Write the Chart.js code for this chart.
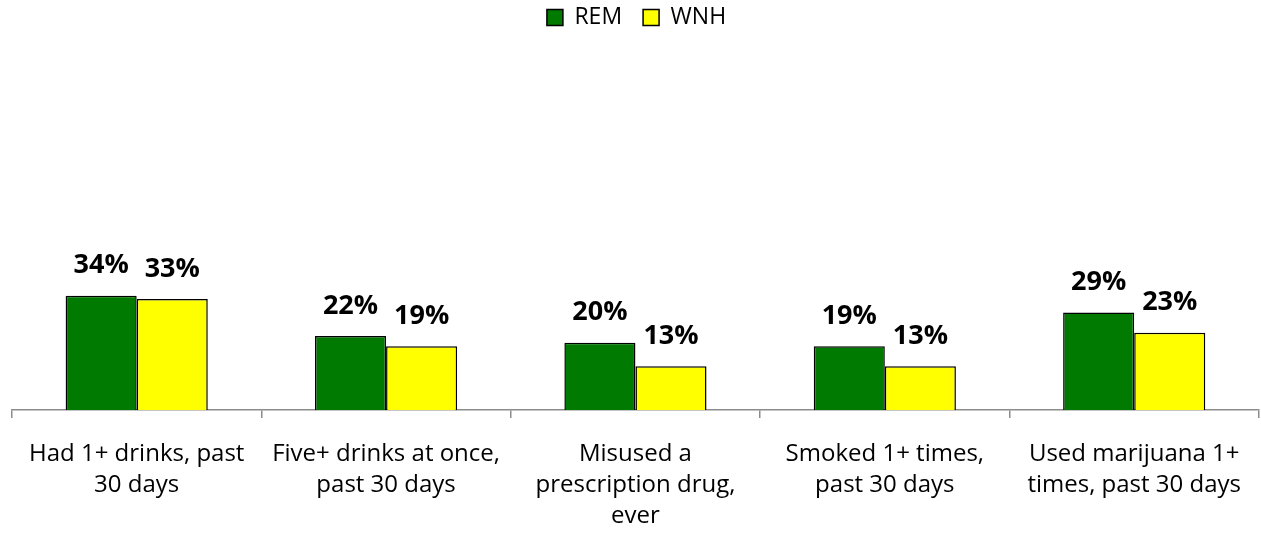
<!DOCTYPE html>
<html><head><meta charset="utf-8">
<script src="https://cdn.jsdelivr.net/npm/chart.js@4"></script>
<style>html,body{margin:0;padding:0;background:#fff;}#wrap{width:1261px;height:533px;}</style>
</head><body><div id="wrap"><canvas id="c" width="1261" height="533"></canvas></div>
<script>
const categories = [
  ["Had 1+ drinks, past", "30 days"],
  ["Five+ drinks at once,", "past 30 days"],
  ["Misused a", "prescription drug,", "ever"],
  ["Smoked 1+ times,", "past 30 days"],
  ["Used marijuana 1+", "times, past 30 days"]
];
const remValues = [34, 22, 20, 19, 29];
const wnhValues = [33, 19, 13, 13, 23];
const seriesNames = ["REM", "WNH"];

const FONT = "'Open Sans', sans-serif";
const TOP_PAD = -15;
const PLOT_TOP = 74;
const AXIS_Y = 410;
const CANVAS_H = 533;

const valueLabels = {
  id: 'valueLabels',
  afterDatasetsDraw(chart) {
    const ctx = chart.ctx;
    ctx.save();
    ctx.font = "bold 27px " + FONT;
    ctx.fillStyle = "#000";
    ctx.textAlign = "center";
    ctx.textBaseline = "middle";
    chart.data.datasets.forEach((ds, i) => {
      chart.getDatasetMeta(i).data.forEach((bar, j) => {
        ctx.fillText(ds.data[j] + "%", bar.x, bar.y - 30);
      });
    });
    ctx.restore();
  }
};

const legendSpace = {
  id: 'legendSpace',
  beforeInit(chart) {
    const lg = chart.legend;
    const fit = lg.fit;
    lg.fit = function () {
      fit.call(this);
      this.height = PLOT_TOP - TOP_PAD;
    };
  }
};

new Chart(document.getElementById('c'), {
  type: 'bar',
  data: {
    labels: categories,
    datasets: [
      { label: seriesNames[0], data: remValues, backgroundColor: "#007A00", borderColor: "#000", borderWidth: 1.5 },
      { label: seriesNames[1], data: wnhValues, backgroundColor: "#FFFF00", borderColor: "#000", borderWidth: 1.5 }
    ]
  },
  options: {
    responsive: false,
    animation: false,
    layout: { padding: { left: 12, right: 0, top: TOP_PAD, bottom: 0 } },
    plugins: {
      legend: {
        position: 'top',
        labels: { font: { family: FONT, size: 23 }, color: "#000", boxWidth: 16, boxHeight: 16, padding: 21 }
      },
      tooltip: { enabled: false }
    },
    datasets: { bar: { categoryPercentage: 0.57, barPercentage: 1.0 } },
    scales: {
      x: {
        afterFit(scale) { scale.height = CANVAS_H - AXIS_Y; },
        grid: { display: true, drawOnChartArea: false, drawTicks: true, tickLength: 8, offset: true, color: "#8c8c8c", lineWidth: 1.5 },
        border: { display: true, color: "#8c8c8c", width: 1.5 },
        ticks: { font: { family: FONT, size: 24, lineHeight: 1.31 }, color: "#000", maxRotation: 0, autoSkip: false, padding: 20 }
      },
      y: {
        display: false,
        min: 0, max: 100
      }
    }
  },
  plugins: [valueLabels, legendSpace]
});
</script></body></html>
